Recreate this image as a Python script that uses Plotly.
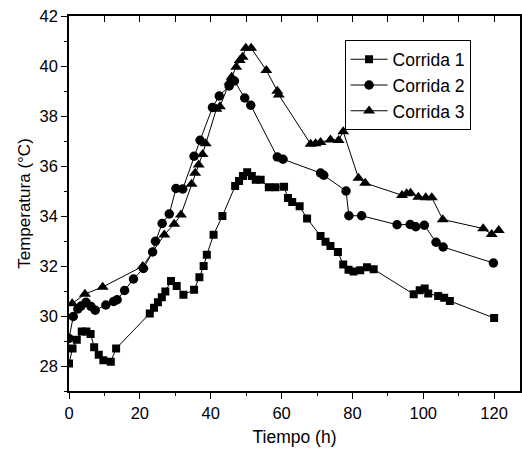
import plotly.graph_objects as go

# Corrida 1
t1 = [0, 1.0, 2.2, 3.6, 4.9, 6.1, 7.1, 8.4, 9.7, 11.8, 13.3, 22.8, 24.0, 25.1, 26.2,
      27.2, 28.8, 30.4, 32.3, 35.3, 36.8, 38.0, 38.9, 40.8, 43.3, 46.9, 48.0, 49.1,
      50.3, 51.6, 52.7, 54.1, 56.4, 58.3, 60.7, 61.8, 63.0, 65.1, 67.2, 71.0, 72.4,
      73.8, 75.9, 77.4, 78.9, 80.3, 82.2, 84.1, 86.0, 97.3, 99.0, 100.4, 101.4, 104.2,
      105.9, 107.5, 120.0]
c1 = [28.1, 28.7, 29.05, 29.38, 29.38, 29.28, 28.75, 28.45, 28.23, 28.17, 28.7, 30.1,
      30.33, 30.55, 30.75, 30.98, 31.4, 31.2, 30.85, 31.05, 31.55, 32.0, 32.45, 33.25,
      34.0, 35.2, 35.4, 35.6, 35.75, 35.6, 35.45, 35.45, 35.15, 35.15, 35.17, 34.72,
      34.56, 34.39, 33.9, 33.2, 32.97, 32.8, 32.56, 32.06, 31.85, 31.78, 31.83, 31.95,
      31.87, 30.87, 31.03, 31.1, 30.9, 30.8, 30.73, 30.6, 29.92]

# Corrida 2
t2 = [0, 1.2, 2.5, 3.4, 4.8, 6.2, 7.4, 10.4, 12.6, 13.6, 15.7, 18.2, 21.0, 23.6, 24.4,
      26.3, 28.3, 30.2, 32.1, 35.3, 37.0, 40.5, 42.4, 45.2, 46.7, 49.6, 51.3, 58.8,
      60.4, 71.0, 71.9, 78.2, 79.0, 82.6, 92.6, 96.3, 97.9, 100.3, 103.6, 105.6, 119.8]
c2 = [29.1, 29.98, 30.28, 30.4, 30.55, 30.38, 30.23, 30.44, 30.58, 30.65, 31.02, 31.48,
      31.9, 32.56, 32.99, 33.7, 34.08, 35.1, 35.08, 36.39, 37.03, 38.34, 38.8, 39.2,
      39.4, 38.72, 38.43, 36.36, 36.27, 35.72, 35.63, 35.0, 34.01, 34.01, 33.65, 33.66,
      33.57, 33.63, 32.95, 32.76, 32.12]

# Corrida 3
t3 = [0.9, 4.5, 9.5, 20.8, 26.9, 29.7, 31.6, 34.6, 35.6, 36.6, 37.7, 38.6, 41.6, 42.6,
      45.3, 45.9, 47.2, 48.2, 49.0, 49.9, 51.4, 55.7, 58.8, 59.2, 68.2, 69.6, 71.0,
      73.8, 76.1, 77.4, 81.7, 83.6, 94.0, 95.3, 96.4, 98.6, 100.7, 102.4, 105.5, 116.9,
      119.3, 121.3]
c3 = [30.5, 30.88, 31.16, 31.99, 33.25, 33.68, 34.05, 35.28, 35.72, 36.05, 36.47, 36.9,
      38.28, 38.38, 39.36, 39.56, 39.96, 40.23, 40.36, 40.72, 40.72, 39.83, 39.0, 38.85,
      36.88, 36.9, 36.95, 37.05, 37.03, 37.38, 35.52, 35.32, 34.83, 34.9, 34.92, 34.76,
      34.74, 34.74, 33.86, 33.5, 33.27, 33.43]

series = [
    ("Corrida 1", t1, c1, "square", 8),
    ("Corrida 2", t2, c2, "circle", 9.5),
    ("Corrida 3", t3, c3, "triangle-up", 10.5),
]

FONT = "Arial, Liberation Sans, sans-serif"
X_RANGE = [0, 127.3]
Y_RANGE = [27, 42]

fig = go.Figure()
for name, t, c, sym, size in series:
    fig.add_trace(go.Scatter(
        x=t, y=c, name=name, mode="lines+markers",
        line=dict(color="black", width=1),
        marker=dict(symbol=sym, size=size, color="black"),
    ))

# invisible trace so the top tick axis is drawn
fig.add_trace(go.Scatter(x=[None], y=[None], xaxis="x2", yaxis="y",
                         showlegend=False, hoverinfo="skip"))

fig.update_layout(
    width=522, height=450,
    margin=dict(l=69, r=0, t=16, b=59),
    paper_bgcolor="white", plot_bgcolor="white",
    font=dict(family=FONT, color="black", size=16),
    showlegend=True,
    legend=dict(
        x=0.611, y=0.935, xanchor="left", yanchor="top",
        bordercolor="black", borderwidth=1, bgcolor="white",
        font=dict(size=17.5, family=FONT), tracegroupgap=0,
        itemwidth=37,
    ),
    xaxis=dict(
        range=X_RANGE, tickmode="array", tickvals=[0, 20, 40, 60, 80, 100, 120],
        ticks="outside", ticklen=6, tickwidth=1.2, tickcolor="black",
        minor=dict(tickmode="linear", tick0=0, dtick=10, ticks="outside",
                   ticklen=3, tickwidth=1.2, tickcolor="black"),
        showline=True, linecolor="black", linewidth=1.5, mirror=True,
        showgrid=False, zeroline=False,
        title=dict(text="Tiempo (h)", font=dict(size=17.5), standoff=10),
        tickfont=dict(size=16.5),
    ),
    xaxis2=dict(
        range=X_RANGE, overlaying="x", side="top", anchor="y",
        tickmode="linear", tick0=0, dtick=10,
        ticks="inside", ticklen=6, tickwidth=1.2, tickcolor="black",
        showticklabels=False, showline=False, showgrid=False, zeroline=False,
    ),
    yaxis=dict(
        range=Y_RANGE, tickmode="linear", tick0=28, dtick=2,
        ticks="outside", ticklen=6, tickwidth=1.2, tickcolor="black",
        minor=dict(tickmode="linear", tick0=27, dtick=1, ticks="outside",
                   ticklen=3, tickwidth=1.2, tickcolor="black"),
        showline=True, linecolor="black", linewidth=1.5, mirror=True,
        showgrid=False, zeroline=False,
        title=dict(text="Temperatura (°C)", font=dict(size=17), standoff=5),
        tickfont=dict(size=16.5),
    ),
)

fig.write_html("out.html")
